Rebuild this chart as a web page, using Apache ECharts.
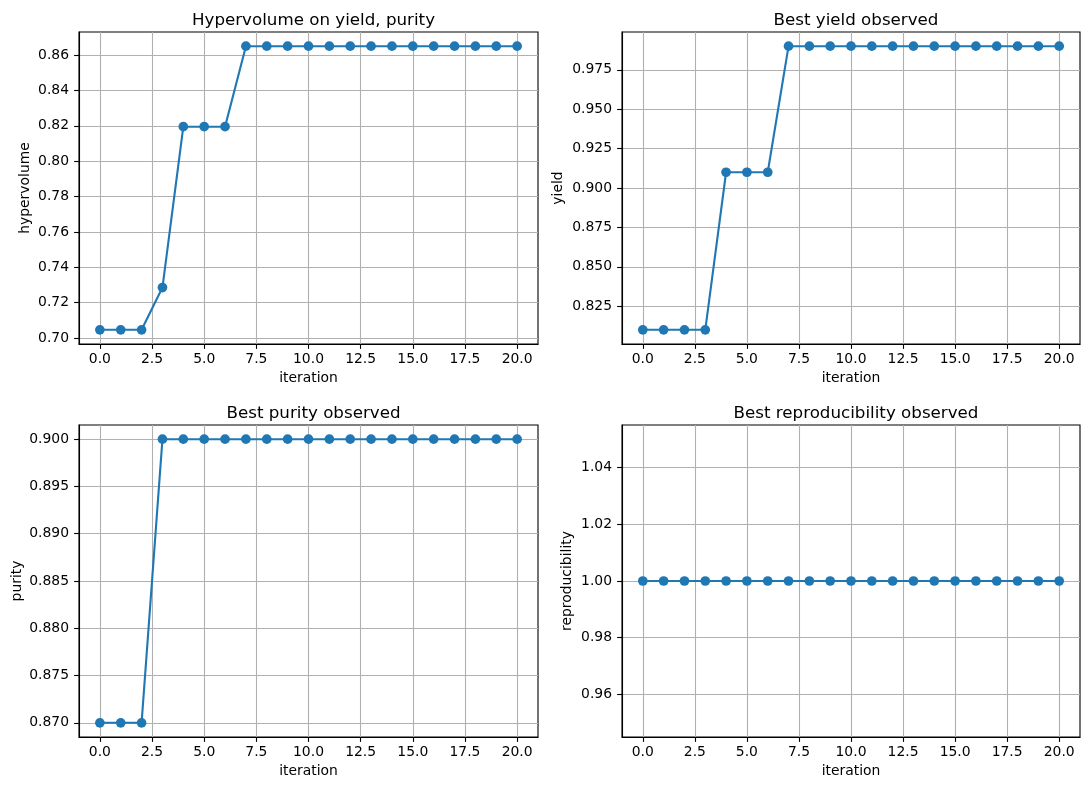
<!DOCTYPE html>
<html>
<head>
<meta charset="utf-8">
<script src="https://cdn.jsdelivr.net/npm/echarts@6/dist/echarts.min.js"></script>
<style>
  html, body { margin: 0; padding: 0; background: #fff; }
  #chart { width: 1089px; height: 790px; }
</style>
</head>
<body>
<div id="chart"></div>
<script>
  // data
  var iterations = [0, 1, 2, 3, 4, 5, 6, 7, 8, 9, 10, 11, 12, 13, 14, 15, 16, 17, 18, 19, 20];
  var hypervolume = [0.7047, 0.7047, 0.7047, 0.7286, 0.8195, 0.8195, 0.8195, 0.865, 0.865, 0.865, 0.865,
    0.865, 0.865, 0.865, 0.865, 0.865, 0.865, 0.865, 0.865, 0.865, 0.865];
  var bestYield = [0.81, 0.81, 0.81, 0.81, 0.91, 0.91, 0.91, 0.99, 0.99, 0.99, 0.99,
    0.99, 0.99, 0.99, 0.99, 0.99, 0.99, 0.99, 0.99, 0.99, 0.99];
  var bestPurity = [0.87, 0.87, 0.87, 0.90, 0.90, 0.90, 0.90, 0.90, 0.90, 0.90, 0.90,
    0.90, 0.90, 0.90, 0.90, 0.90, 0.90, 0.90, 0.90, 0.90, 0.90];
  var bestRepro = [1, 1, 1, 1, 1, 1, 1, 1, 1, 1, 1, 1, 1, 1, 1, 1, 1, 1, 1, 1, 1];

  var xTicks = [0, 2.5, 5, 7.5, 10, 12.5, 15, 17.5, 20];
  var hvTicks = [0.70, 0.72, 0.74, 0.76, 0.78, 0.80, 0.82, 0.84, 0.86];
  var yieldTicks = [0.825, 0.850, 0.875, 0.900, 0.925, 0.950, 0.975];
  var purityTicks = [0.870, 0.875, 0.880, 0.885, 0.890, 0.895, 0.900];
  var reproTicks = [0.96, 0.98, 1.00, 1.02, 1.04];

  var titles = ['Hypervolume on yield, purity', 'Best yield observed', 'Best purity observed', 'Best reproducibility observed'];
  var yNames = ['hypervolume', 'yield', 'purity', 'reproducibility'];

  var FONT = 'DejaVu Sans';
  var BLUE = '#1f77b4';

  var grids = [
    { left: 79, top: 32, width: 459, height: 312 },
    { left: 622, top: 32, width: 458, height: 312 },
    { left: 79, top: 425, width: 459, height: 312 },
    { left: 622, top: 425, width: 458, height: 312 }
  ];
  var yNameGaps = [47, 57, 55, 48];

  // matplotlib style auto limits: 5% margin, flat data widened by 5% first
  function limits(vals) {
    var lo = Math.min.apply(null, vals), hi = Math.max.apply(null, vals);
    if (lo === hi) { var d = Math.abs(lo) * 0.05; lo -= d; hi += d; }
    var m = (hi - lo) * 0.05;
    return [lo - m, hi + m];
  }

  var seriesData = [hypervolume, bestYield, bestPurity, bestRepro];
  var yTicks = [hvTicks, yieldTicks, purityTicks, reproTicks];
  var yDigits = [2, 3, 3, 2];

  var xLim = limits(iterations);

  var option = {
    animation: false,
    backgroundColor: '#fff',
    title: [],
    grid: [],
    xAxis: [],
    yAxis: [],
    series: []
  };

  grids.forEach(function (g, i) {
    option.grid.push({
      left: g.left, top: g.top, width: g.width, height: g.height,
      show: true, borderColor: '#000', borderWidth: 1.1, backgroundColor: 'transparent'
    });
    option.title.push({
      text: titles[i],
      left: g.left + g.width / 2,
      top: g.top - 25,
      textAlign: 'center',
      textStyle: { fontFamily: FONT, fontSize: 16.7, fontWeight: 'normal', color: '#000' }
    });
    option.xAxis.push({
      type: 'value',
      gridIndex: i,
      min: xLim[0],
      max: xLim[1],
      name: 'iteration',
      nameLocation: 'middle',
      nameGap: 27,
      nameTextStyle: { fontFamily: FONT, fontSize: 13.9, color: '#000' },
      axisLine: { show: true, onZero: false, lineStyle: { color: '#000', width: 1.1 } },
      axisTick: { show: true, length: 4.9, lineStyle: { color: '#000', width: 1.1 }, customValues: xTicks },
      axisLabel: {
        fontFamily: FONT, fontSize: 13.9, color: '#000', margin: 8,
        customValues: xTicks,
        formatter: function (v) { return v.toFixed(1); }
      },
      splitLine: { show: true, lineStyle: { color: '#b0b0b0', width: 1.1 } }
    });
    var yl = limits(seriesData[i]);
    option.yAxis.push({
      type: 'value',
      gridIndex: i,
      min: yl[0],
      max: yl[1],
      name: yNames[i],
      nameLocation: 'middle',
      nameGap: yNameGaps[i],
      nameTextStyle: { fontFamily: FONT, fontSize: 13.9, color: '#000' },
      axisLine: { show: true, onZero: false, lineStyle: { color: '#000', width: 1.1 } },
      axisTick: { show: true, length: 4.9, lineStyle: { color: '#000', width: 1.1 }, customValues: yTicks[i] },
      axisLabel: {
        fontFamily: FONT, fontSize: 13.9, color: '#000', margin: 10,
        customValues: yTicks[i],
        formatter: (function (d) { return function (v) { return v.toFixed(d); }; })(yDigits[i])
      },
      splitLine: { show: true, lineStyle: { color: '#b0b0b0', width: 1.1 } }
    });
    option.series.push({
      type: 'line',
      xAxisIndex: i,
      yAxisIndex: i,
      data: iterations.map(function (x, k) { return [x, seriesData[i][k]]; }),
      symbol: 'circle',
      symbolSize: 9.7,
      showSymbol: true,
      clip: false,
      itemStyle: { color: BLUE, borderWidth: 0 },
      lineStyle: { color: BLUE, width: 2.1 }
    });
  });

  var chart = echarts.init(document.getElementById('chart'), null, { renderer: 'canvas' });
  chart.setOption(option);
</script>
</body>
</html>
